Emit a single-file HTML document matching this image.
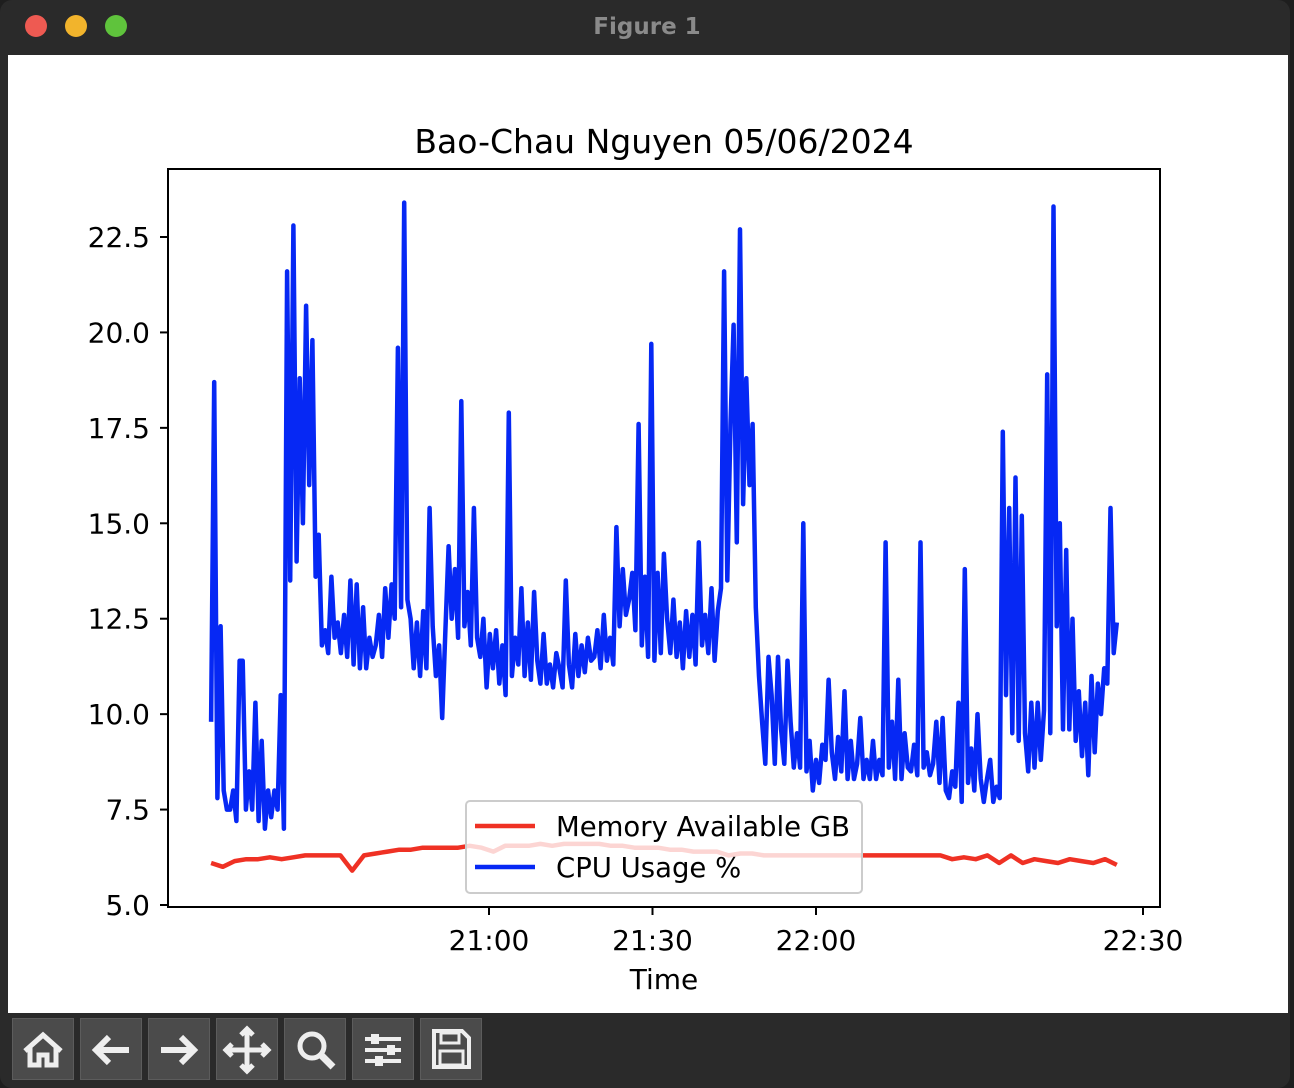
<!DOCTYPE html>
<html><head><meta charset="utf-8">
<style>
html,body{margin:0;padding:0;background:#1e1e1e;width:1294px;height:1088px;overflow:hidden;font-family:"DejaVu Sans","Liberation Sans",sans-serif}
#win{position:absolute;left:0;top:0;width:1290px;height:1088px;background:#2a2a2a;border-radius:12px;overflow:hidden}
#content{position:absolute;left:8px;top:55px;width:1280px;height:958px;background:#fff}
.btn{position:absolute;top:1018px;width:62px;height:62px;background:#4b4b4b;border:1px solid #5c5c5c;box-sizing:border-box}
</style></head><body>
<div id="win">
  <svg width="1294" height="55" style="position:absolute;left:0;top:0">
    <circle cx="36" cy="26" r="11" fill="#ee5a52"/>
    <circle cx="76" cy="26" r="11" fill="#f2b42c"/>
    <circle cx="116" cy="26" r="11" fill="#5fc33c"/>
    <text x="647" y="34" text-anchor="middle" font-size="23" font-weight="bold" fill="#8a8a8a" font-family="DejaVu Sans, sans-serif">Figure 1</text>
  </svg>
  <div id="content"></div>
  <div class="btn" style="left:12px"><svg width="60" height="60"><path d="M12 32 L30 16 L48 32 M17 28 V46 H26 V36 H34 V46 H43 V28" fill="none" stroke="#eee" stroke-width="5"/></svg></div>
  <div class="btn" style="left:80px"><svg width="60" height="60"><path d="M48 31 H16 M28 18 L15 31 L28 44" fill="none" stroke="#eee" stroke-width="6"/></svg></div>
  <div class="btn" style="left:148px"><svg width="60" height="60"><path d="M12 31 H44 M32 18 L45 31 L32 44" fill="none" stroke="#eee" stroke-width="6"/></svg></div>
  <div class="btn" style="left:216px"><svg width="60" height="60"><path d="M30 10 V52 M9 31 H51 M24 16 L30 10 L36 16 M24 46 L30 52 L36 46 M15 25 L9 31 L15 37 M45 25 L51 31 L45 37" fill="none" stroke="#eee" stroke-width="5"/></svg></div>
  <div class="btn" style="left:284px"><svg width="60" height="60"><circle cx="27" cy="27" r="12" fill="none" stroke="#eee" stroke-width="5"/><path d="M36 36 L48 48" stroke="#eee" stroke-width="7"/></svg></div>
  <div class="btn" style="left:352px"><svg width="60" height="60"><path d="M12 20 H48 M12 31 H48 M12 42 H48" stroke="#eee" stroke-width="4"/><rect x="18" y="15" width="8" height="10" fill="#eee"/><rect x="34" y="26" width="8" height="10" fill="#eee"/><rect x="22" y="37" width="8" height="10" fill="#eee"/></svg></div>
  <div class="btn" style="left:420px"><svg width="60" height="60"><path d="M13 12 H41 L48 19 V48 H13 Z" fill="none" stroke="#eee" stroke-width="4"/><rect x="20" y="14" width="18" height="10" fill="none" stroke="#eee" stroke-width="3"/><rect x="19" y="32" width="23" height="14" fill="none" stroke="#eee" stroke-width="3"/></svg></div>
</div>
<svg id="chart" width="1294" height="1088" style="position:absolute;left:0;top:0"></svg>
<script>
const cpuUsage=[9.8,18.7,7.8,12.3,8,7.5,7.5,8,7.2,11.4,11.4,7.5,8.5,7.5,10.3,7.2,9.3,7,8,7.3,8,7.5,10.5,7,21.6,13.5,22.8,14,18.8,15,20.7,16,19.8,13.6,14.7,11.8,12.2,11.6,13.6,12,12.4,11.6,12.6,11.5,13.5,11.3,13.4,11.2,12.8,11.2,12,11.5,11.8,12.6,11.5,13.3,12,13.4,12.5,19.6,12.8,23.4,13,12.5,11.2,12.4,11,12.7,11.2,15.4,12.3,11,11.8,9.9,12.2,14.4,12.5,13.8,12,18.2,12.3,13.2,11.8,15.4,12,11.5,12.5,10.7,12.1,11.2,12.2,10.8,11.8,10.5,17.9,11,12,11.3,13.3,11,12.4,10.9,13.2,11.4,10.8,12.1,10.8,11.3,10.7,11.6,11.2,10.7,13.5,11.3,10.7,12.1,11,11.8,11.1,12,11.4,11.5,12.2,11.2,12.6,11.4,12.0,11.3,14.9,12.3,13.8,12.6,13,13.7,12.2,17.6,11.8,13.6,11.5,19.7,11.4,13.7,11.6,14.2,12.5,11.6,13,11.5,12.4,11.2,12.7,11.5,12.6,11.3,14.5,11.8,12.6,11.6,13.3,11.4,12.7,13.3,21.6,13.5,17.6,20.2,14.5,22.7,15.5,18.8,16,17.6,12.8,11,9.8,8.7,11.5,10.5,8.7,11.5,9.6,8.7,11.4,9.8,8.6,9.5,8.6,15,8.5,9.3,8,8.8,8.2,9.2,8.8,10.9,9,8.3,9.4,8.5,10.6,8.3,9.3,8.3,8.7,9.9,8.3,8.8,8.3,9.3,8.3,8.8,8.4,14.5,8.6,9.8,8.3,10.9,8.3,9.5,8.6,8.5,9.2,8.4,14.5,8.6,9,8.4,8.7,9.8,8.2,9.9,8,7.8,8.5,8.1,10.3,7.7,13.8,8.2,9.1,8,10,8.3,7.7,8.3,8.8,7.7,8.1,7.8,17.4,10.5,15.4,9.5,16.2,9.3,15.2,9.5,8.5,10.3,8.6,10.3,8.8,10.1,18.9,9.5,23.3,12.3,15,9.6,14.3,9.6,12.5,9.3,10.6,8.9,10.3,8.4,11,9,10.8,10,11.2,10.8,15.4,11.6,12.4];
const memoryGB=[6.1,6.0,6.15,6.2,6.2,6.25,6.2,6.25,6.3,6.3,6.3,6.3,5.9,6.3,6.35,6.4,6.45,6.45,6.5,6.5,6.5,6.5,6.55,6.5,6.4,6.55,6.55,6.55,6.6,6.55,6.6,6.6,6.6,6.6,6.55,6.55,6.5,6.5,6.5,6.45,6.45,6.4,6.4,6.4,6.3,6.35,6.35,6.3,6.3,6.3,6.3,6.3,6.3,6.3,6.3,6.3,6.3,6.3,6.3,6.3,6.3,6.3,6.3,6.2,6.25,6.2,6.3,6.1,6.3,6.1,6.2,6.15,6.1,6.2,6.15,6.1,6.2,6.05];
const startMin=9.0, endMin=175.2; // minutes after 20:00
const yTicks=[5.0,7.5,10.0,12.5,15.0,17.5,20.0,22.5];
const xTickMin=[60,90,120,180];
const xTickLabels=["21:00","21:30","22:00","22:30"];

const NS="http://www.w3.org/2000/svg";
const svg=document.getElementById('chart');
const L=168,R=1160,T=169,B=907;
const y=v=>905-(v-5)*(668/17.5);
const x=m=>489+(m-60)*(163.5/30);
function mk(tag,attrs,parent){const e=document.createElementNS(NS,tag);for(const k in attrs)e.setAttribute(k,attrs[k]);(parent||svg).appendChild(e);return e;}
const F="DejaVu Sans, Liberation Sans, sans-serif";
const title=mk('text',{x:664,y:153,'text-anchor':'middle','font-size':33,'font-family':F,fill:'#000'});
title.textContent="Bao-Chau Nguyen 05/06/2024";


function series(vals,color,name){
  const n=vals.length;
  const pts=vals.map((v,i)=>x(startMin+(endMin-startMin)*i/(n-1)).toFixed(1)+","+y(v).toFixed(1)).join(" ");
  const p=mk('polyline',{points:pts,fill:'none',stroke:color,'stroke-width':4.5,'stroke-linejoin':'round'});
  
  
}
series(memoryGB,'#ef3124','memory-line');
series(cpuUsage,'#0628f4','cpu-line');
const frame=mk('rect',{x:L,y:T,width:R-L,height:B-T,fill:'none',stroke:'#000','stroke-width':2});


yTicks.forEach(v=>{
  mk('line',{x1:L-8,x2:L,y1:y(v),y2:y(v),stroke:'#000','stroke-width':2});
  const t=mk('text',{x:L-18,y:y(v)+10,'text-anchor':'end','font-size':28,'font-family':F});
  t.textContent=v.toFixed(1);
  
  
});
xTickMin.forEach((m,i)=>{
  mk('line',{x1:x(m),x2:x(m),y1:B,y2:B+8,stroke:'#000','stroke-width':2});
  const t=mk('text',{x:x(m),y:950,'text-anchor':'middle','font-size':28,'font-family':F});
  t.textContent=xTickLabels[i];
  
  
});
const xt=mk('text',{x:664,y:989,'text-anchor':'middle','font-size':28,'font-family':F});
xt.textContent="Time";


const lg=mk('g',{});


mk('rect',{x:466,y:801,width:396,height:92,rx:4,fill:'rgba(255,255,255,0.8)',stroke:'#ccc','stroke-width':2},lg);
mk('line',{x1:475,x2:535,y1:826,y2:826,stroke:'#ef3124','stroke-width':4.5},lg);
mk('line',{x1:475,x2:535,y1:867,y2:867,stroke:'#0628f4','stroke-width':4.5},lg);
const l1=mk('text',{x:556,y:836,'font-size':27.5,'font-family':F},lg);l1.textContent="Memory Available GB";


const l2=mk('text',{x:556,y:877,'font-size':27.5,'font-family':F},lg);l2.textContent="CPU Usage %";


</script>
</body></html>
